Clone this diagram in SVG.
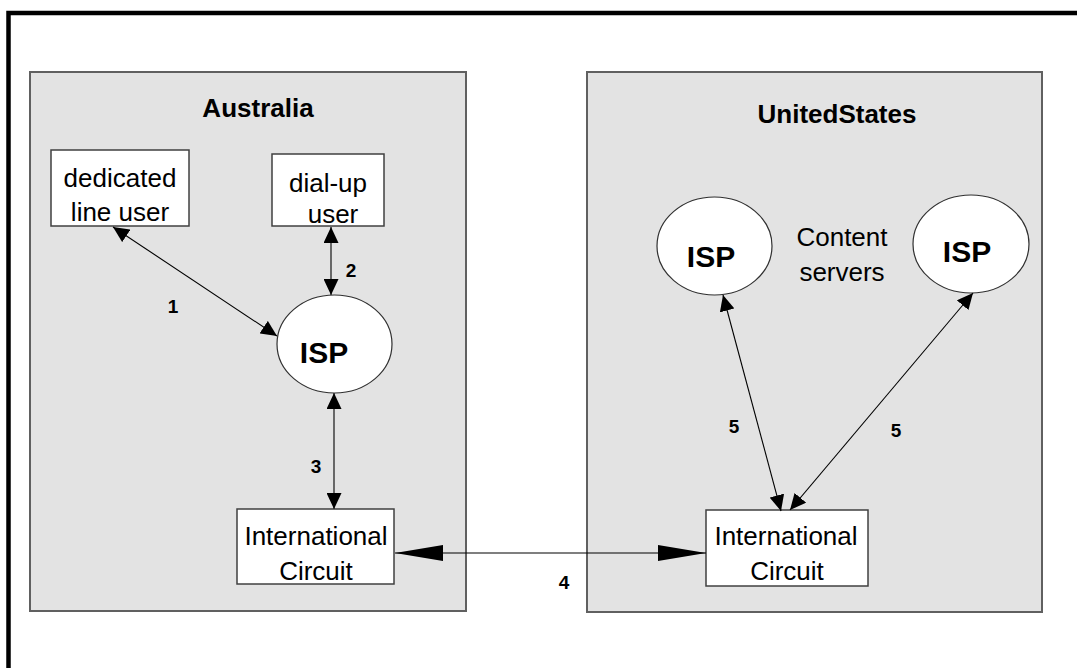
<svg xmlns="http://www.w3.org/2000/svg" width="1077" height="668" viewBox="0 0 1077 668">
<style>
text{font-family:"Liberation Sans",Arial,sans-serif;fill:#000}
.t{font-size:26px;text-anchor:middle}
.b{font-size:26px;font-weight:bold;text-anchor:middle}
.isp{font-size:30px;font-weight:bold;text-anchor:middle}
.n{font-size:19px;font-weight:bold;text-anchor:middle}
.region{fill:#e3e3e3;stroke:#606060;stroke-width:2}
.box{fill:#fff;stroke:#404040;stroke-width:1.5}
.ell{fill:#fff;stroke:#303030;stroke-width:1.2}
.c{stroke:#000;stroke-width:1.1;fill:none}
.v{stroke:#333;stroke-width:1.4;fill:none}
</style>
<defs>
<marker id="ah" markerUnits="userSpaceOnUse" markerWidth="16" markerHeight="15" refX="16" refY="7.5" orient="auto-start-reverse" viewBox="0 0 16 15"><path d="M0,0 L16,7.5 L0,15 z" fill="#000"/></marker>
<marker id="big" markerUnits="userSpaceOnUse" markerWidth="48" markerHeight="16" refX="48" refY="8" orient="auto-start-reverse" viewBox="0 0 48 16"><path d="M0,0 L48,8 L0,16 z" fill="#000"/></marker>
</defs>
<rect width="1077" height="668" fill="#fff"/>
<rect x="8.5" y="13" width="1100" height="700" fill="none" stroke="#000" stroke-width="4.5"/>
<g id="australia">
<rect class="region" x="30" y="72" width="436" height="539"/>
<text class="b" x="258" y="117">Australia</text>
</g>
<g id="unitedstates">
<rect class="region" x="587" y="72" width="455" height="540"/>
<text class="b" x="837" y="123">UnitedStates</text>
</g>
<g id="dedicated">
<rect class="box" x="51" y="150" width="138" height="76"/>
<text class="t" x="120" y="187">dedicated</text>
<text class="t" x="120" y="221">line user</text>
</g>
<g id="dialup">
<rect class="box" x="272" y="154" width="112" height="72"/>
<text class="t" x="328" y="192">dial-up</text>
<text class="t" x="333" y="223">user</text>
</g>
<g id="isp-au">
<ellipse class="ell" cx="334.5" cy="344" rx="57.5" ry="49"/>
<text class="isp" x="324" y="363">ISP</text>
</g>
<g id="ic-au">
<rect class="box" x="237" y="509" width="157" height="75"/>
<text class="t" x="316" y="545">International</text>
<text class="t" x="316" y="580">Circuit</text>
</g>
<g id="isp-us1">
<ellipse class="ell" cx="714.5" cy="246" rx="57.5" ry="49"/>
<text class="isp" x="711" y="267">ISP</text>
</g>
<g id="content">
<text class="t" x="842" y="246">Content</text>
<text class="t" x="842" y="281">servers</text>
</g>
<g id="isp-us2">
<ellipse class="ell" cx="971" cy="244" rx="58" ry="49"/>
<text class="isp" x="967" y="262">ISP</text>
</g>
<g id="ic-us">
<rect class="box" x="706" y="510" width="162" height="76"/>
<text class="t" x="786" y="545">International</text>
<text class="t" x="787" y="580">Circuit</text>
</g>
<g id="connectors">
<line class="c" x1="113" y1="227" x2="277" y2="336" marker-start="url(#ah)" marker-end="url(#ah)"/>
<line class="v" x1="331" y1="227" x2="331" y2="295" marker-start="url(#ah)" marker-end="url(#ah)"/>
<line class="v" x1="334" y1="393" x2="334" y2="509" marker-start="url(#ah)" marker-end="url(#ah)"/>
<line class="c" x1="395" y1="553" x2="706" y2="553" marker-start="url(#big)" marker-end="url(#big)"/>
<line class="c" x1="723" y1="295" x2="781" y2="511" marker-start="url(#ah)" marker-end="url(#ah)"/>
<line class="c" x1="973" y1="293" x2="790" y2="510" marker-start="url(#ah)" marker-end="url(#ah)"/>
<text class="n" x="173" y="313">1</text>
<text class="n" x="351" y="277">2</text>
<text class="n" x="316" y="473">3</text>
<text class="n" x="564" y="589">4</text>
<text class="n" x="734" y="433">5</text>
<text class="n" x="896" y="437">5</text>
</g>
</svg>
